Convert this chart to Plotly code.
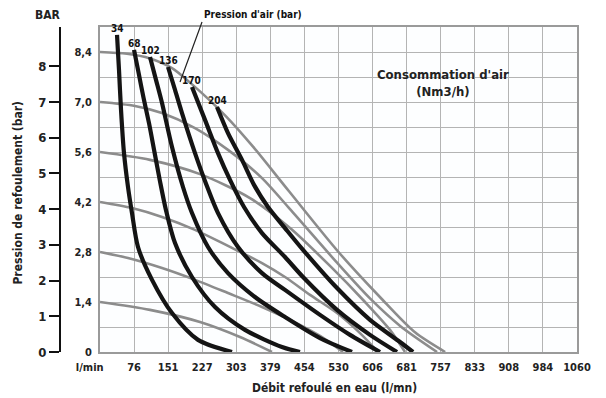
import plotly.graph_objects as go

# ---------------- data ----------------
flow_tick_vals = [0, 75.7, 151.4, 227.1, 302.8, 378.5, 454.2, 529.9, 605.6, 681.3, 757.0, 832.7, 908.4, 984.1, 1060.0]
flow_tick_text = ["l/min\u00a0\u00a0\u00a0\u00a0\u00a0\u00a0", "76", "151", "227", "303", "379", "454", "530", "606", "681", "757", "833", "908", "984", "1060"]

pressure_grid = [0, 0.7, 1.4, 2.1, 2.8, 3.5, 4.2, 4.9, 5.6, 6.3, 7.0, 7.7, 8.4, 9.1]
pressure_text = ["0", "", "1,4", "", "2,8", "", "4,2", "", "5,6", "", "7,0", "", "8,4", ""]
bar_ticks = [0, 1, 2, 3, 4, 5, 6, 7, 8]

# Air pressure lines (grey), labelled on the inner axis
air_p_84_flow = [0, 60, 111, 160, 204, 280, 340, 420, 530, 622, 700, 767]
air_p_84_bar = [8.40, 8.35, 8.22, 7.95, 7.50, 6.60, 5.75, 4.50, 2.80, 1.54, 0.55, 0.0]
air_p_70_flow = [0, 77.8, 137.8, 211.1, 284.4, 360.0, 422.2, 526.7, 600.0, 667.0, 749.0]
air_p_70_bar = [7.0, 6.89, 6.69, 6.27, 5.66, 4.87, 4.0, 2.50, 1.50, 0.73, 0.0]
air_p_56_flow = [0, 111.1, 222.2, 333.3, 422.2, 511.1, 588.9, 644.4, 677.8]
air_p_56_bar = [5.6, 5.38, 4.98, 4.31, 3.47, 2.41, 1.40, 0.62, 0.0]
air_p_42_flow = [0, 71.1, 137.8, 211.1, 284.4, 360.0, 411.1, 466.7, 526.7, 577.8, 617.8]
air_p_42_bar = [4.2, 4.03, 3.78, 3.42, 2.97, 2.49, 2.10, 1.60, 1.09, 0.53, 0.0]
air_p_28_flow = [0, 62.2, 137.8, 211.1, 284.4, 360.0, 422.2, 488.9, 540.0]
air_p_28_bar = [2.8, 2.63, 2.35, 2.02, 1.65, 1.26, 0.90, 0.45, 0.0]
air_p_14_flow = [0, 111.1, 222.2, 311.1, 382.2]
air_p_14_bar = [1.4, 1.18, 0.84, 0.42, 0.0]

# Air consumption curves (black, Nm3/h)
air_c_labels = ["34", "68", "102", "136", "170", "204"]
air_c_34_flow = [37.8, 42.2, 46.7, 53.3, 62.2, 71.1, 84.4, 115.6, 160.0, 217.8, 293.3]
air_c_34_bar = [8.88, 7.90, 6.78, 5.57, 4.62, 3.89, 2.94, 2.02, 1.09, 0.34, 0.0]
air_c_68_flow = [75.6, 86.0, 97.0, 109.0, 121.0, 133.0, 147.0, 166.7, 204.4, 255.6, 322.2, 404.4, 444.4]
air_c_68_bar = [8.46, 7.80, 7.10, 6.40, 5.60, 4.80, 3.95, 3.05, 2.10, 1.26, 0.62, 0.14, 0.0]
air_c_102_flow = [111.1, 124.4, 137.8, 160.0, 184.4, 204.4, 240.0, 284.4, 344.4, 411.1, 488.9, 560.0]
air_c_102_bar = [8.26, 7.62, 6.97, 5.74, 4.62, 3.89, 2.94, 2.21, 1.54, 0.98, 0.39, 0.0]
air_c_136_flow = [151.1, 166.7, 182.2, 211.1, 236.0, 262.2, 306.7, 360.0, 411.1, 488.9, 555.6, 622.2]
air_c_136_bar = [7.98, 7.34, 6.69, 5.57, 4.70, 3.89, 2.94, 2.21, 1.74, 1.04, 0.48, 0.0]
air_c_170_flow = [204.4, 233.3, 262.2, 288.9, 320.0, 360.0, 411.1, 451.1, 526.7, 600.0, 660.0]
air_c_170_bar = [7.42, 6.50, 5.57, 4.82, 4.06, 3.33, 2.66, 2.10, 1.18, 0.48, 0.0]
air_c_204_flow = [260.0, 284.4, 315.6, 342.2, 373.3, 411.1, 451.1, 526.7, 600.0, 666.7, 695.6]
air_c_204_bar = [6.86, 6.13, 5.38, 4.68, 4.06, 3.47, 2.86, 1.79, 0.90, 0.28, 0.0]

grey_series = [
    (air_p_14_flow, air_p_14_bar), (air_p_28_flow, air_p_28_bar), (air_p_42_flow, air_p_42_bar),
    (air_p_56_flow, air_p_56_bar), (air_p_70_flow, air_p_70_bar), (air_p_84_flow, air_p_84_bar),
]
black_series = [
    (air_c_34_flow, air_c_34_bar), (air_c_68_flow, air_c_68_bar), (air_c_102_flow, air_c_102_bar),
    (air_c_136_flow, air_c_136_bar), (air_c_170_flow, air_c_170_bar), (air_c_204_flow, air_c_204_bar),
]

FONT = "Liberation Sans Narrow, Arial Narrow, DejaVu Sans Condensed, Liberation Sans, sans-serif"

fig = go.Figure()

for fx, fy in grey_series:
    fig.add_trace(go.Scatter(x=fx, y=fy, mode="lines", line=dict(color="#8c8c8c", width=2.6, shape="spline", smoothing=0.8),
                             hoverinfo="skip", showlegend=False, cliponaxis=False))
for fx, fy in black_series:
    fig.add_trace(go.Scatter(x=fx, y=fy, mode="lines", line=dict(color="#141414", width=4.2, shape="spline", smoothing=0.8),
                             hoverinfo="skip", showlegend=False, cliponaxis=False))

# invisible trace to display the outer BAR axis
fig.add_trace(go.Scatter(x=[0, 0], y=[0, 0], yaxis="y2", mode="lines", line=dict(width=0),
                         hoverinfo="skip", showlegend=False))

annotations = []
for lab, (fx, fy) in zip(air_c_labels, black_series):
    annotations.append(dict(x=fx[0], y=fy[0], text=lab, showarrow=False, yanchor="bottom", yshift=-1,
                            font=dict(family=FONT, size=10, color="#111", weight="bold")))

annotations += [
    dict(x=177.8, y=7.56, ax=22, ay=-60, text="Pression d'air (bar)", showarrow=True,
         arrowhead=0, arrowwidth=1.2, arrowcolor="#222", xanchor="left", yanchor="bottom",
         font=dict(family=FONT, size=10, color="#111", weight="bold")),
    dict(xref="paper", yref="paper", x=0.746, y=0.828, text="Consommation d'air<br>(Nm3/h)", showarrow=False,
         xanchor="center", yanchor="middle",
         font=dict(family=FONT, size=13, color="#222", weight="bold"), align="center"),
    dict(xref="paper", yref="paper", x=-0.004, y=1.037, text="BAR", showarrow=False,
         xanchor="center", yanchor="middle",
         font=dict(family=FONT, size=12, color="#222", weight="bold")),
    dict(xref="paper", yref="paper", x=-0.061, y=0.49, text="Pression de refoulement (bar)", showarrow=False,
         textangle=-90, xanchor="center", yanchor="middle",
         font=dict(family=FONT, size=12, color="#222", weight="bold")),
    dict(xref="paper", yref="paper", x=0.539, y=-0.111, text="Débit refoulé en eau (l/mn)", showarrow=False,
         xanchor="center", yanchor="middle",
         font=dict(family=FONT, size=12, color="#222", weight="bold")),
]

fig.update_layout(
    width=598, height=390,
    margin=dict(l=42, r=29, t=19, b=46),
    paper_bgcolor="#ffffff", plot_bgcolor="#fdfeff",
    annotations=annotations,
    xaxis=dict(domain=[0.0949, 1], range=[0, 1060], tickvals=flow_tick_vals, ticktext=flow_tick_text,
               showgrid=True, gridcolor="#b4b4b4", gridwidth=1.4, zeroline=False,
               showline=True, linecolor="#9a9a9a", linewidth=1.6, mirror=True,
               ticks="outside", ticklen=4, tickcolor="rgba(0,0,0,0)",
               tickfont=dict(family=FONT, size=11, color="#222", weight="bold")),
    yaxis=dict(range=[0, 9.1], tickvals=pressure_grid, ticktext=pressure_text,
               showgrid=True, gridcolor="#b4b4b4", gridwidth=1.4, zeroline=False,
               showline=True, linecolor="#9a9a9a", linewidth=1.6, mirror=True,
               ticks="outside", ticklen=4, tickcolor="rgba(0,0,0,0)",
               tickfont=dict(family=FONT, size=11, color="#222", weight="bold")),
    yaxis2=dict(range=[0, 9.1], overlaying="y", anchor="free", position=0.019, side="left",
                tickvals=bar_ticks, showgrid=False, zeroline=False,
                showline=True, linecolor="#111", linewidth=2,
                ticks="outside", ticklen=10, tickwidth=1.6, tickcolor="#111",
                tickfont=dict(family=FONT, size=13, color="#222", weight="bold")),
)

fig.write_html("out.html")
